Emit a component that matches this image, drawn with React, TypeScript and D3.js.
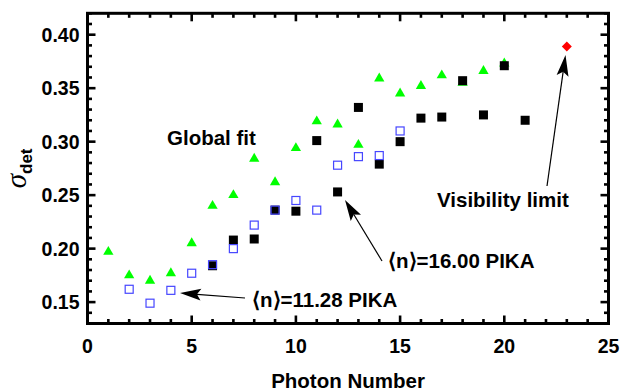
import React from "react";
import * as d3 from "d3";

// Detection width per photon number for the three data sets
const globalFitN = [1, 2, 3, 4, 5, 6, 7, 8, 9, 10, 11, 12, 13, 14, 15, 16, 17, 18, 19, 20];
const globalFitSigma = [0.197, 0.175, 0.17, 0.177, 0.205, 0.24, 0.25, 0.284, 0.262, 0.294, 0.319, 0.316, 0.297, 0.359, 0.345, 0.352, 0.362, 0.355, 0.366, 0.373];

const pika16N = [6, 7, 8, 9, 10, 11, 12, 13, 14, 15, 16, 17, 18, 19, 20, 21];
const pika16Sigma = [0.184, 0.208, 0.209, 0.236, 0.235, 0.301, 0.253, 0.332, 0.279, 0.3, 0.322, 0.323, 0.357, 0.325, 0.371, 0.32];

const pika11N = [2, 3, 4, 5, 6, 7, 8, 9, 10, 11, 12, 13, 14, 15];
const pika11Sigma = [0.162, 0.149, 0.161, 0.177, 0.185, 0.2, 0.222, 0.236, 0.245, 0.236, 0.278, 0.286, 0.287, 0.31];

const visibilityN = [23];
const visibilitySigma = [0.389];

const xTicks = [0, 5, 10, 15, 20, 25];
const yTicks = [0.15, 0.2, 0.25, 0.3, 0.35, 0.4];

const W = 620;
const H = 391;
const FONT = "'Liberation Sans', Arial, Helvetica, sans-serif";

const x = d3.scaleLinear().domain([0, 25]).range([87.5, 608.5]);
const y = d3.scaleLinear().domain([0.13, 0.42]).range([323.5, 13.3]);

const xMinor = d3.range(0, 26, 1).filter((v) => v % 5 !== 0);
const yMinor = d3.range(13, 43, 1).map((v) => v / 100).filter((v) => Math.round(v * 100) % 5 !== 0);

function Arrow({ x1, y1, x2, y2 }: { x1: number; y1: number; x2: number; y2: number }) {
  const dx = x2 - x1;
  const dy = y2 - y1;
  const len = Math.hypot(dx, dy);
  const ux = dx / len;
  const uy = dy / len;
  const px = -uy;
  const py = ux;
  const headL = 21;
  const headW = 6;
  const notch = 4;
  const bx = x2 - ux * headL;
  const by = y2 - uy * headL;
  const nx = x2 - ux * (headL - notch);
  const ny = y2 - uy * (headL - notch);
  const head = [
    [x2, y2],
    [bx + px * headW, by + py * headW],
    [nx, ny],
    [bx - px * headW, by - py * headW],
  ];
  return (
    <g>
      <line x1={x1} y1={y1} x2={nx} y2={ny} stroke="#000" strokeWidth={1.2} />
      <path d={"M" + head.map((p) => p.join(",")).join("L") + "Z"} fill="#000" />
    </g>
  );
}

export default function App() {
  const tri = d3.symbol(d3.symbolTriangle, 46)();
  const diamond = "M0,-5L5,0L0,5L-5,0Z";
  const left = x(0);
  const right = x(25);
  const top = y(0.42);
  const bottom = y(0.13);

  return (
    <svg
      width={W}
      height={H}
      viewBox={`0 0 ${W} ${H}`}
      style={{ position: "absolute", left: 0, top: 0, background: "#fff" }}
    >
      <rect x={0} y={0} width={W} height={H} fill="#fff" />

      {/* inward ticks on all four sides */}
      <g stroke="#000" strokeWidth={2.6}>
        {xTicks.map((t) => (
          <g key={"xt" + t}>
            <line x1={x(t)} x2={x(t)} y1={bottom} y2={bottom - 8} />
            <line x1={x(t)} x2={x(t)} y1={top} y2={top + 8} />
          </g>
        ))}
        {xMinor.map((t) => (
          <g key={"xm" + t}>
            <line x1={x(t)} x2={x(t)} y1={bottom} y2={bottom - 4.5} />
            <line x1={x(t)} x2={x(t)} y1={top} y2={top + 4.5} />
          </g>
        ))}
        {yTicks.map((t) => (
          <g key={"yt" + t}>
            <line x1={left} x2={left + 8} y1={y(t)} y2={y(t)} />
            <line x1={right} x2={right - 8} y1={y(t)} y2={y(t)} />
          </g>
        ))}
        {yMinor.map((t) => (
          <g key={"ym" + t}>
            <line x1={left} x2={left + 4.5} y1={y(t)} y2={y(t)} />
            <line x1={right} x2={right - 4.5} y1={y(t)} y2={y(t)} />
          </g>
        ))}
      </g>

      <rect
        x={left}
        y={top}
        width={right - left}
        height={bottom - top}
        fill="none"
        stroke="#000"
        strokeWidth={3}
      />

      {/* tick labels */}
      <g fontFamily={FONT} fontWeight="bold" fontSize={19.5} fill="#000">
        {xTicks.map((t) => (
          <text key={"xl" + t} x={x(t)} y={353} textAnchor="middle">
            {t}
          </text>
        ))}
        {yTicks.map((t) => (
          <text key={"yl" + t} x={79.5} y={y(t)} dy="0.36em" textAnchor="end">
            {t.toFixed(2)}
          </text>
        ))}
      </g>

      {/* axis titles */}
      <text
        x={(left + right) / 2}
        y={388}
        textAnchor="middle"
        fontFamily={FONT}
        fontWeight="bold"
        fontSize={20.5}
      >
        Photon Number
      </text>
      <text transform={`translate(26, ${(top + bottom) / 2}) rotate(-90)`} textAnchor="middle">
        <tspan fontFamily="'Liberation Serif', 'DejaVu Serif', serif" fontStyle="italic" fontSize={29}>
          σ
        </tspan>
        <tspan fontFamily={FONT} fontWeight="bold" fontSize={17} dy={6}>
          det
        </tspan>
      </text>

      {/* data markers */}
      <g fill="#00ff00">
        {globalFitN.map((n, i) => (
          <path key={"g" + n} d={tri} transform={`translate(${x(n)},${y(globalFitSigma[i])})`} />
        ))}
      </g>
      <g fill="#000">
        {pika16N.map((n, i) => (
          <rect key={"k" + n} x={x(n) - 4.5} y={y(pika16Sigma[i]) - 4.5} width={9} height={9} />
        ))}
      </g>
      <g fill="none" stroke="#4646ff" strokeWidth={1.2}>
        {pika11N.map((n, i) => (
          <rect key={"b" + n} x={x(n) - 4} y={y(pika11Sigma[i]) - 4} width={8} height={8} />
        ))}
      </g>
      <g fill="#ff0000">
        {visibilityN.map((n, i) => (
          <path key={"r" + n} d={diamond} transform={`translate(${x(n)},${y(visibilitySigma[i])})`} />
        ))}
      </g>

      {/* annotations */}
      <Arrow x1={245} y1={298} x2={180} y2={293} />
      <Arrow x1={382} y1={261} x2={345} y2={200} />
      <Arrow x1={547} y1={186} x2={565.5} y2={55} />

      <g fontFamily={FONT} fontWeight="bold" fontSize={20.5} fill="#000">
        <text x={167} y={145}>Global fit</text>
        <text x={437} y={207}>Visibility limit</text>
        <text x={388} y={268}>⟨n⟩=16.00 PIKA</text>
        <text x={252} y={306.5}>⟨n⟩=11.28 PIKA</text>
      </g>
    </svg>
  );
}
